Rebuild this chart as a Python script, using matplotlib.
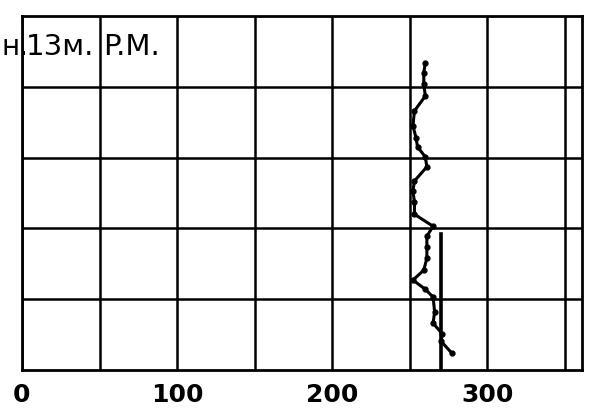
import numpy as np
import matplotlib
matplotlib.use('Agg')
import matplotlib.pyplot as plt

# значения
depth = [4.34, 4.20, 4.04, 3.87, 3.66, 3.45, 3.28, 3.15, 3.01, 2.87, 2.67, 2.53, 2.37,
         2.20, 2.03, 1.89, 1.74, 1.58, 1.41, 1.27, 1.14, 1.03, 0.82, 0.66, 0.51, 0.41, 0.24]
value = [260, 259, 259, 260, 253, 252, 254, 255, 260, 261, 253, 252, 253,
         253, 265, 261, 261, 261, 259, 252, 260, 265, 266, 265, 271, 270, 277]
ref_x = 270
ref_top = 1.92
xtick_pos = [0, 50, 100, 150, 200, 250, 300, 350]
xtick_lab = ['0', '', '100', '', '200', '', '300', '']
ygrid = [1, 2, 3, 4]

fig = plt.figure(figsize=(5.95, 4.10), dpi=100)
ax = fig.add_axes([22 / 595, 39 / 410, 560 / 595, 354 / 410])

ax.plot(value, depth, color='black', lw=2.2, marker='o', ms=3.5, zorder=3)
ax.plot([ref_x, ref_x], [0, ref_top], color='black', lw=2.6, zorder=3)

ax.set_xlim(0, 361)
ax.set_ylim(0, 5)
ax.set_xticks(xtick_pos)
ax.set_xticklabels(xtick_lab, fontsize=18, fontweight='bold')
ax.set_yticks(ygrid)
ax.set_yticklabels([])
ax.tick_params(length=0, pad=9)
ax.grid(True, color='black', lw=1.8)
for s in ax.spines.values():
    s.set_linewidth(2)

fig.text(1 / 595, (410 - 55) / 410, 'н.', fontsize=20, ha='left', va='baseline')
fig.text(26 / 595, (410 - 55) / 410, '13м.', fontsize=21, ha='left', va='baseline')
fig.text(103 / 595, (410 - 55) / 410, 'P.M.', fontsize=21, ha='left', va='baseline')

fig.savefig('out.png', dpi=100)
